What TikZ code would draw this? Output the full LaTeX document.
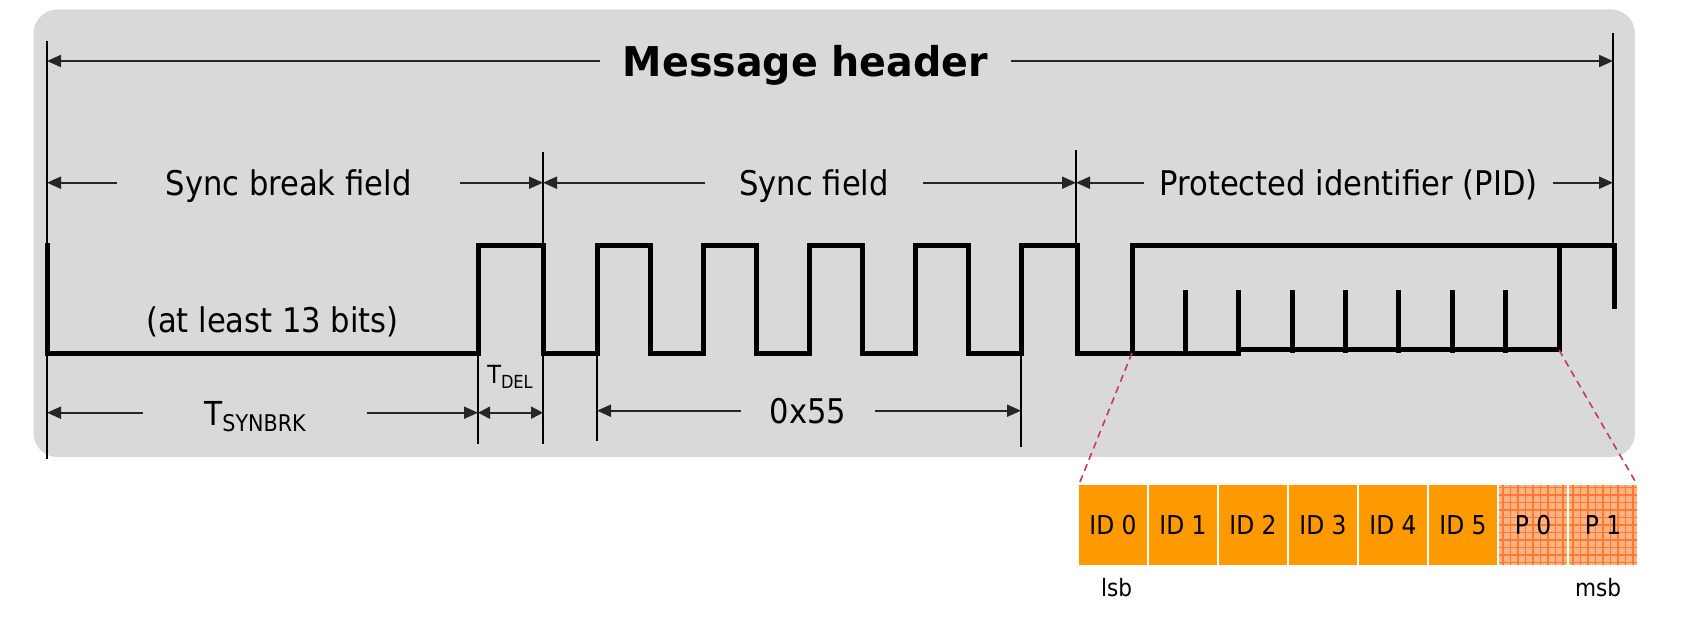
\documentclass[tikz,border=0pt]{standalone}
\usepackage{fontspec}
\setmainfont{DejaVu Sans}[FakeStretch=0.9]
\newfontfamily\titlefont{DejaVu Sans}[FakeStretch=0.965]
\usetikzlibrary{arrows.meta}
\definecolor{bggray}{HTML}{D9D9D9}
\definecolor{idorange}{HTML}{FF9900}
\definecolor{plight}{HTML}{FFB385}
\definecolor{pgrid}{HTML}{FF7A2E}
\definecolor{zoomred}{HTML}{C8385E}
\newcommand{\fs}[1]{\fontsize{#1}{#1}\selectfont}
\begin{document}
\begin{tikzpicture}[x=1pt,y=-1pt,
  dim/.style={draw=black!85,line width=2pt,-{Triangle[length=14pt,width=12pt]}},
  dimboth/.style={draw=black!85,line width=2pt,{Triangle[length=12pt,width=12pt]}-{Triangle[length=12pt,width=12pt]}},
  guide/.style={draw=black,line width=1.6pt},
  wave/.style={draw=black,line width=5pt,line join=miter,line cap=rect},
  lbl/.style={inner ysep=0pt,inner xsep=0pt,anchor=base,font=\fs{34}},
  idbox/.style={rectangle,fill=idorange,minimum width=68pt,minimum height=80pt,inner sep=0pt,font=\fs{26}},
  pbox/.style={rectangle,fill=plight,minimum width=68pt,minimum height=80pt,inner sep=0pt,font=\fs{26},
    path picture={
      \foreach \k in {-4,...,4} {\draw[pgrid,line width=1.1pt] ([xshift=\k*7.5pt]path picture bounding box.north) -- ([xshift=\k*7.5pt]path picture bounding box.south);}
      \foreach \k in {-5,...,5} {\draw[pgrid,line width=1.1pt] ([yshift=\k*7.5pt]path picture bounding box.west) -- ([yshift=\k*7.5pt]path picture bounding box.east);}
    }},
  zoomline/.style={draw=zoomred,line width=1.6pt,dash pattern=on 7pt off 5pt}
]
\fill[white] (0,0) rectangle (1700,618);
\useasboundingbox (0,0) rectangle (1700,618);
\fill[bggray,rounded corners=24pt] (33.5,9.5) rectangle (1635,457);

% guide lines
\draw[guide] (47,40.7) -- (47,459);
\draw[guide] (1613,33.3) -- (1613,245);
\draw[guide] (543,151.7) -- (543,444);
\draw[guide] (1076,150) -- (1076,245);
\draw[guide] (478,353) -- (478,444);
\draw[guide] (597,353) -- (597,441);
\draw[guide] (1021,353) -- (1021,447);

% coordinates for dimension arrows
\coordinate (hdrL) at (47,61);
\coordinate (hdrR) at (1613,61);
\coordinate (sbfL) at (47,182.7);
\coordinate (sbfR) at (543,182.7);
\coordinate (sfL) at (543,182.7);
\coordinate (sfR) at (1076,182.7);
\coordinate (pidL) at (1076,182.7);
\coordinate (pidR) at (1613,182.7);
\coordinate (tsL) at (47,412.7);
\coordinate (tsR) at (478,412.7);
\coordinate (tdL) at (478,412.7);
\coordinate (tdR) at (543,412.7);
\coordinate (hxL) at (597,410.7);
\coordinate (hxR) at (1021,410.7);

% labels
\node[lbl,inner xsep=23pt,font=\titlefont\bfseries\fs{41}] (title) at (805.5,76.7) {Message header};
\node[lbl,inner xsep=48pt] (sbf) at (288.5,195) {Sync break field};
\node[lbl,inner xsep=34pt] (sf) at (814,195) {Sync field};
\node[lbl,inner xsep=15pt] (pid) at (1348.5,195) {Protected identifier (PID)};
\node[lbl] (bits) at (272.5,332) {(at least 13 bits)};
\node[lbl,inner xsep=61pt,font=\fs{33}] (tsyn) at (255,425) {T\raisebox{-6.7pt}{\fs{23}SYNBRK}};
\node[lbl,font=\fs{25}] (tdel) at (510,383) {T\raisebox{-5pt}{\fs{18}DEL}};
\node[lbl,inner xsep=29pt] (hex) at (808,423) {0x55};

% dimension arrows
\draw[dim] (title.west |- hdrL) -- (hdrL);
\draw[dim] (title.east |- hdrR) -- (hdrR);
\draw[dim] (sbf.west |- sbfL) -- (sbfL);
\draw[dim] (sbf.east |- sbfR) -- (sbfR);
\draw[dim] (sf.west |- sfL) -- (sfL);
\draw[dim] (sf.east |- sfR) -- (sfR);
\draw[dim] (pid.west |- pidL) -- (pidL);
\draw[dim] (pid.east |- pidR) -- (pidR);
\draw[dim] (tsyn.west |- tsL) -- (tsL);
\draw[dim] (tsyn.east |- tsR) -- (tsR);
\draw[dimboth] (tdL) -- (tdR);
\draw[dim] (hex.west |- hxL) -- (hxL);
\draw[dim] (hex.east |- hxR) -- (hxR);

% waveform
\draw[wave] (47,245) -- (47,353) -- (478,353) -- (478,245) -- (543,245) -- (543,353)
  -- (597,353) -- (597,245) -- (650,245) -- (650,353) -- (703,353) -- (703,245)
  -- (756,245) -- (756,353) -- (809,353) -- (809,245) -- (862,245) -- (862,353)
  -- (915,353) -- (915,245) -- (968,245) -- (968,353) -- (1021,353) -- (1021,245)
  -- (1077,245) -- (1077,353) -- (1132,353) -- (1132,245) -- (1614,245) -- (1614,306);
\draw[wave] (1132,353) -- (1238,353);
\draw[wave] (1238,349.5) -- (1559,349.5) -- (1559,245);
\foreach \t in {1185,1238.6,1292,1345,1398,1452,1505}
  \draw[wave] (\t,292) -- (\t,350);

% PID bits
\foreach \i in {0,...,5}
  \node[idbox] (b\i) at (1113+70*\i,525) {ID \i};
\node[pbox] (b6) at (1533,525) {P 0};
\node[pbox] (b7) at (1603,525) {P 1};
\coordinate (pidlowL) at (1132,353);
\coordinate (pidlowR) at (1559,350);
\draw[zoomline] (pidlowL) -- (b0.north west);
\draw[zoomline] (pidlowR) -- (b7.north east);
\node[lbl,font=\fs{24}] (lsb) at (1116.5,596.5) {lsb};
\node[lbl,font=\fs{24}] (msb) at (1598,596.5) {msb};
\end{tikzpicture}
\end{document}
